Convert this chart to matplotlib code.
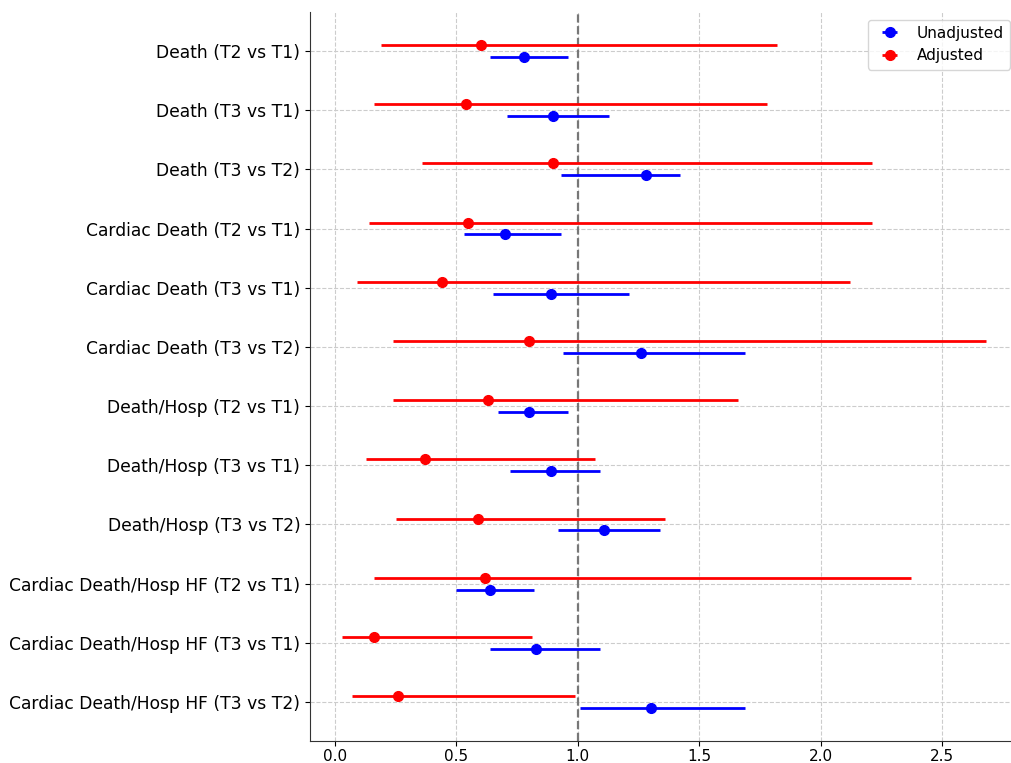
#!/usr/bin/env python3
"""
Forest plot of unadjusted vs adjusted hazard ratios.
"""

import matplotlib

matplotlib.use("Agg")
import matplotlib.pyplot as plt
import numpy as np


OUT_PATH = "out.png"

LABELS = [
    "Death (T2 vs T1)",
    "Death (T3 vs T1)",
    "Death (T3 vs T2)",
    "Cardiac Death (T2 vs T1)",
    "Cardiac Death (T3 vs T1)",
    "Cardiac Death (T3 vs T2)",
    "Death/Hosp (T2 vs T1)",
    "Death/Hosp (T3 vs T1)",
    "Death/Hosp (T3 vs T2)",
    "Cardiac Death/Hosp HF (T2 vs T1)",
    "Cardiac Death/Hosp HF (T3 vs T1)",
    "Cardiac Death/Hosp HF (T3 vs T2)",
]

# Unadjusted estimates and 95% CI
unadj_hr = [0.78, 0.90, 1.28, 0.70, 0.89, 1.26, 0.80, 0.89, 1.11, 0.64, 0.83, 1.30]
unadj_lo = [0.64, 0.71, 0.93, 0.53, 0.65, 0.94, 0.67, 0.72, 0.92, 0.50, 0.64, 1.01]
unadj_hi = [0.96, 1.13, 1.42, 0.93, 1.21, 1.69, 0.96, 1.09, 1.34, 0.82, 1.09, 1.69]

# Adjusted estimates and 95% CI
adj_hr = [0.60, 0.54, 0.90, 0.55, 0.44, 0.80, 0.63, 0.37, 0.59, 0.62, 0.16, 0.26]
adj_lo = [0.19, 0.16, 0.36, 0.14, 0.09, 0.24, 0.24, 0.13, 0.25, 0.16, 0.03, 0.07]
adj_hi = [1.82, 1.78, 2.21, 2.21, 2.12, 2.68, 1.66, 1.07, 1.36, 2.37, 0.81, 0.99]

BLUE = "#0000FF"
RED = "#FF0000"
GRID = "#CCCCCC"
OFFSET = 0.1


def draw(ax, y, hr, lo, hi, color, label):
    hr = np.asarray(hr)
    err = np.vstack([hr - np.asarray(lo), np.asarray(hi) - hr])
    ax.errorbar(
        hr, y, xerr=err, fmt="o", color=color, ecolor=color,
        elinewidth=2.0, capsize=0, markersize=7, label=label, zorder=3,
    )


def main() -> None:
    fig = plt.figure(figsize=(10.11, 7.63), dpi=100)
    ax = fig.add_axes([310 / 1011, 22 / 763, 708 / 1011, 729 / 763])

    y = np.arange(len(LABELS))
    draw(ax, y + OFFSET, unadj_hr, unadj_lo, unadj_hi, BLUE, "Unadjusted")
    draw(ax, y - OFFSET, adj_hr, adj_lo, adj_hi, RED, "Adjusted")

    ax.axvline(1.0, color="#777777", linestyle="--", linewidth=1.6, zorder=2)

    ax.set_yticks(y)
    ax.set_yticklabels(LABELS, fontsize=12.3)
    ax.invert_yaxis()
    ax.set_xticks([0.0, 0.5, 1.0, 1.5, 2.0, 2.5])
    ax.tick_params(axis="x", labelsize=11, pad=2)

    ax.grid(True, linestyle="--", color=GRID, linewidth=0.8, zorder=0)
    ax.set_axisbelow(True)
    ax.spines["top"].set_visible(False)
    ax.spines["right"].set_visible(False)
    ax.spines["left"].set_color("#333333")
    ax.spines["bottom"].set_color("#333333")

    ax.legend(loc="upper right", fontsize=11, borderaxespad=0.5)

    fig.savefig(OUT_PATH, dpi=100)
    plt.close(fig)


if __name__ == "__main__":
    main()
